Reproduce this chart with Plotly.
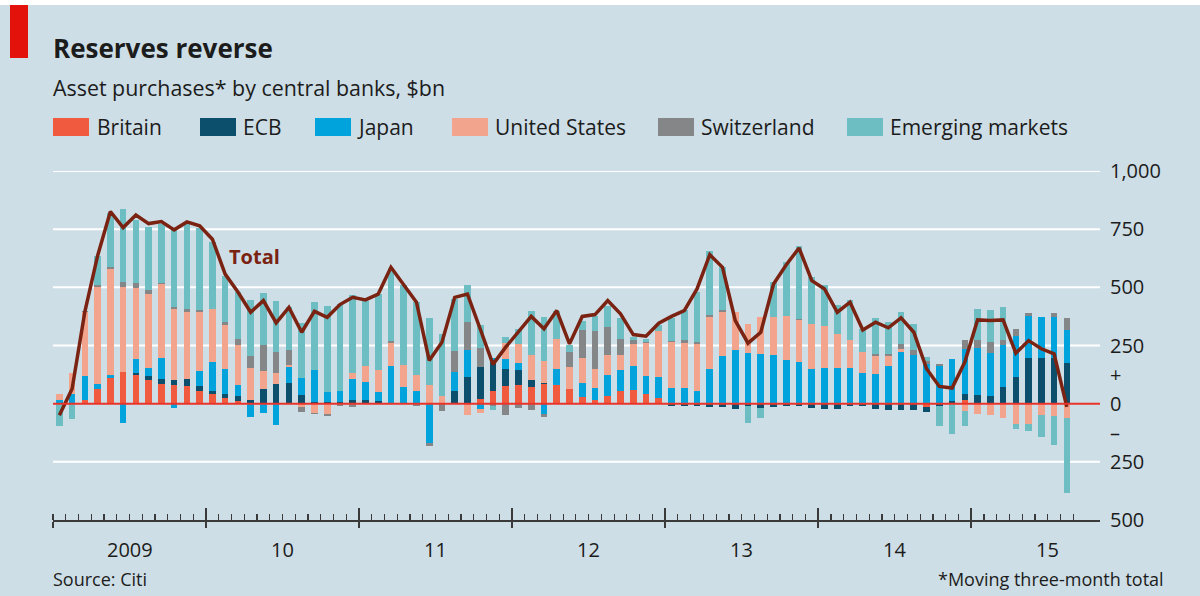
import plotly.graph_objects as go

# ---------------- data (monthly, Jan 2009 - Aug 2015, $bn, 3-month moving totals) ----
month_index = list(range(80))

britain = [0, 0, 17, 64, 109, 136, 124, 103, 86, 79,
           76, 54, 40, 23, 11, 0, 0, 0, 0, 0,
           0, 0, 0, 3, 3, 3, 3, 0, 0, 0,
           0, 0, 0, 21, 54, 76, 80, 71, 83, 80,
           61, 29, 17, 31, 54, 57, 40, 23, 3, 0,
           0, 0, 0, 0, 0, 0, 0, 0, 0, 0,
           0, 0, 0, 0, 0, 0, 0, 0, -14, 0,
           0, 17, 0, 0, 0, 0, 0, 0, 0, 0]

ecb = [0, 0, 0, 0, 0, 0, 6, 14, 19, 23,
       29, 21, 14, 17, 21, 17, 61, 83, 87, 36,
       7, 6, 9, 11, 11, 10, 0, 0, 0, 0,
       0, 54, 114, 136, 133, 71, 63, 29, 7, 0,
       0, 0, 0, 0, 0, 0, 0, 0, -8, -11,
       -10, -14, -14, -21, -11, -17, -14, -11, -11, -17,
       -21, -21, -11, -9, -21, -26, -29, -26, -21, -11,
       11, 26, 39, 31, 71, 116, 197, 197, 197, 174]

japan = [15, 40, 104, 19, 14, -83, 63, 37, 90, -17,
         0, 64, 124, 107, 47, -57, -40, -93, 71, 76,
         139, 46, 46, 90, 80, 36, 160, 71, 56, -167,
         0, 81, 116, -21, 8, 43, 33, 0, -43, 67,
         0, 61, 51, 91, 89, 104, 79, 91, 64, 69,
         53, 150, 203, 229, 217, 214, 210, 189, 181, 150,
         154, 154, 154, 131, 129, 160, 221, 210, 169, 161,
         179, 193, 200, 186, 180, 174, 181, 177, 174, 143]

united_states = [26, 93, 271, 420, 457, 367, 304, 317, 320, 307,
                 289, 254, 230, 193, 172, 136, 81, 47, 7, -15,
                 -39, -46, 0, 26, 67, 96, 99, 96, 66, 79,
                 33, 0, -47, -17, 0, 71, 79, 111, 93, 129,
                 96, 107, 83, 86, 66, 96, 143, 200, 197, 193,
                 203, 224, 191, 164, 126, 157, 161, 186, 179, 193,
                 179, 146, 120, 90, 74, 43, 14, 0, 0, 0,
                 0, -31, -46, -50, -60, -86, -86, -50, -54, -60]

switzerland = [0, 0, 5, 6, 6, 20, 23, 19, 3, 7,
               11, 10, 0, 11, 27, 54, 111, 93, 64, -20,
               -7, -6, -11, -14, 0, 0, 9, 0, -9, -17,
               -31, 93, 121, 83, -8, -50, -17, -29, -14, 0,
               66, 121, 163, 120, 67, 15, 5, 0, 7, 11,
               9, 9, 9, 0, 0, 0, 0, 0, 4, 0,
               0, 0, 0, 0, 9, 11, 21, 21, 14, 10,
               0, 39, 33, 47, 21, 33, 10, 0, 17, 50]

emerging = [-97, -64, 0, 124, 233, 314, 270, 271, 254, 331,
            367, 350, 289, 196, 204, 239, 224, 217, 186, 233,
            293, 367, 374, 335, 282, 326, 314, 343, 315, 290,
            265, 223, 160, 96, -21, 24, 64, 186, 189, 121,
            31, 39, 61, 90, 93, 15, 10, 26, 96, 129,
            217, 274, 186, 0, -74, -44, 150, 233, 314, 200,
            179, 126, 171, 100, 157, 136, 136, 110, 17, -86,
            -129, -66, 133, 140, 143, -24, -31, -93, -124, -322]

total = [-50, 64, 396, 636, 826, 757, 811, 774, 783, 747,
         781, 764, 707, 557, 480, 393, 443, 347, 414, 307,
         397, 371, 426, 457, 446, 471, 586, 514, 436, 186,
         264, 457, 471, 321, 169, 243, 307, 375, 322, 400,
         257, 375, 383, 443, 386, 297, 290, 346, 375, 400,
         493, 640, 586, 357, 260, 307, 514, 597, 669, 529,
         493, 393, 436, 317, 350, 326, 369, 307, 150, 74,
         67, 179, 360, 357, 360, 217, 271, 236, 214, -14]

series_names = ["Britain", "ECB", "Japan", "United States", "Switzerland", "Emerging markets"]
series_values = [britain, ecb, japan, united_states, switzerland, emerging]
series_colors = ["#F05A3E", "#0B4F6C", "#00A3DC", "#F2A48C", "#858688", "#6CBEC2"]

year_starts = [0, 12, 24, 36, 48, 60, 72]
year_labels = ["2009", "10", "11", "12", "13", "14", "15"]

y_tickvals = [1000, 750, 500, 250, 125, 0, -125, -250, -500]
y_ticktext = ["1,000", "750", "500", "250", "+", "0", "–", "250", "500"]
grid_values = [1000, 750, 500, 250, -250]

# ---------------- layout constants ----------------
W, H = 1200, 596
ML, MR, MT, MB = 53, 100, 171, 76
PW, PH = W - ML - MR, H - MT - MB
BG = "#CEDEE6"
TXT = "#1c1c1c"
FONT = "Open Sans"


def px_x(px):
    return (px - ML) / PW


def px_y(py):
    return (H - MB - py) / PH


x_mid = [m + 0.5 for m in month_index]

fig = go.Figure()
for name, vals, col in zip(series_names, series_values, series_colors):
    fig.add_trace(go.Bar(x=x_mid, y=vals, name=name, marker=dict(color=col, line=dict(width=0)),
                         width=0.52, showlegend=False))

fig.add_trace(go.Scatter(x=x_mid, y=total, mode="lines", name="Total", xaxis="x2",
                         line=dict(color="#7A2312", width=3.5), showlegend=False))

shapes = []
# white top strip
shapes.append(dict(type="rect", xref="paper", yref="paper", x0=px_x(0), x1=px_x(W),
                   y0=px_y(5), y1=px_y(0), fillcolor="white", line=dict(width=0), layer="above"))
# red tag
shapes.append(dict(type="rect", xref="paper", yref="paper", x0=px_x(10), x1=px_x(28),
                   y0=px_y(58), y1=px_y(5), fillcolor="#E3120B", line=dict(width=0)))
# gridlines
for g in grid_values:
    shapes.append(dict(type="line", xref="paper", yref="y", x0=0, x1=1, y0=g, y1=g,
                       line=dict(color="white", width=2), layer="below"))
# zero line
shapes.append(dict(type="line", xref="paper", yref="y", x0=0, x1=1, y0=0, y1=0,
                   line=dict(color="#E8342A", width=2), layer="above"))

annotations = []
annotations.append(dict(text="<b>Reserves reverse</b>", xref="paper", yref="paper",
                        x=px_x(51), y=px_y(48), xanchor="left", yanchor="middle", showarrow=False,
                        font=dict(family=FONT, size=26, color=TXT)))
annotations.append(dict(text="Asset purchases* by central banks, $bn", xref="paper", yref="paper",
                        x=px_x(51), y=px_y(87), xanchor="left", yanchor="middle", showarrow=False,
                        font=dict(family=FONT, size=21.4, color=TXT)))

legend_pos = [(53, 97), (200, 243), (315, 357), (452, 495), (658, 701), (847, 890)]
for (sx, tx), name, col in zip(legend_pos, series_names, series_colors):
    shapes.append(dict(type="rect", xref="paper", yref="paper", x0=px_x(sx), x1=px_x(sx + 36),
                       y0=px_y(136), y1=px_y(118), fillcolor=col, line=dict(width=0)))
    annotations.append(dict(text=name, xref="paper", yref="paper", x=px_x(tx - 2), y=px_y(127.5),
                            xanchor="left", yanchor="middle", showarrow=False,
                            font=dict(family=FONT, size=21, color=TXT)))

for ys, lab in zip(year_starts, year_labels):
    annotations.append(dict(text=lab, xref="x", yref="paper", x=ys + 6, y=px_y(549),
                            xanchor="center", yanchor="middle", showarrow=False,
                            font=dict(family=FONT, size=20, color=TXT)))

annotations.append(dict(text="<b>Total</b>", xref="x", yref="y", x=15.8, y=632,
                        xanchor="center", yanchor="middle", showarrow=False,
                        font=dict(family=FONT, size=20, color="#7A2312")))
annotations.append(dict(text="Source: Citi", xref="paper", yref="paper", x=px_x(51), y=px_y(579),
                        xanchor="left", yanchor="middle", showarrow=False,
                        font=dict(family=FONT, size=18, color=TXT)))
annotations.append(dict(text="*Moving three-month total", xref="paper", yref="paper", x=px_x(1166),
                        y=px_y(579), xanchor="right", yanchor="middle", showarrow=False,
                        font=dict(family=FONT, size=18, color=TXT)))

x_range = [0, 82.1]
fig.update_layout(
    width=W, height=H,
    margin=dict(l=ML, r=MR, t=MT, b=MB, pad=0),
    paper_bgcolor=BG, plot_bgcolor=BG,
    barmode="relative", bargap=0,
    font=dict(family=FONT, color=TXT),
    shapes=shapes, annotations=annotations,
    xaxis=dict(range=x_range, showgrid=False, zeroline=False, showline=True,
               linecolor="#3a3a3a", linewidth=1.5,
               tickmode="array", tickvals=year_starts, ticks="outside", ticklen=6,
               tickwidth=1.5, tickcolor="#3a3a3a", showticklabels=False,
               minor=dict(tickmode="array", tickvals=month_index + [80], ticks="inside",
                          ticklen=6, tickwidth=1.2, tickcolor="#3a3a3a", showgrid=False)),
    xaxis2=dict(range=x_range, overlaying="x", anchor="y", side="bottom", showgrid=False,
                zeroline=False, showline=False, tickmode="array", tickvals=year_starts,
                ticks="inside", ticklen=12, tickwidth=1.5, tickcolor="#3a3a3a",
                showticklabels=False),
    yaxis=dict(range=[-500, 1000], side="right", showgrid=False, zeroline=False, showline=False,
               tickmode="array", tickvals=y_tickvals, ticktext=y_ticktext, ticks="",
               ticklabelstandoff=9, tickfont=dict(family=FONT, size=20, color=TXT)),
)

fig.write_html(
    "out.html",
    config={"displayModeBar": False, "staticPlot": True},
    post_script="document.body.style.margin='0';document.body.style.padding='0';"
                "document.body.style.overflow='hidden';"
                "document.documentElement.style.overflow='hidden';",
)
